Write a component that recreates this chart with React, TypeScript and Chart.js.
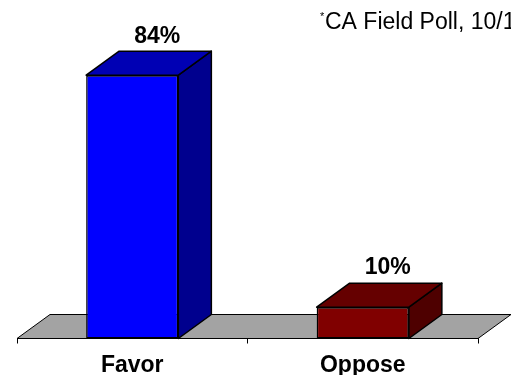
import React, { useEffect, useRef } from "react";
import { Chart, registerables } from "chart.js";

Chart.register(...registerables);

const categories = ["Favor", "Oppose"];
const values = [84, 10];
const valueLabels = ["84%", "10%"];
const footnote = "CA Field Poll, 10/13";

const frontColors = ["#0000FF", "#800000"];
const topColors = ["#0000B4", "#650000"];
const sideColors = ["#00008E", "#4E0000"];

const DX = 33;
const DY = -24;

const threeD = {
  id: "threeD",
  beforeDatasetsDraw(chart: any) {
    const { ctx, chartArea } = chart;
    const base = chart.scales.y.getPixelForValue(0);
    ctx.save();
    ctx.beginPath();
    ctx.moveTo(chartArea.left, base);
    ctx.lineTo(chartArea.right, base);
    ctx.lineTo(chartArea.right + DX, base + DY);
    ctx.lineTo(chartArea.left + DX, base + DY);
    ctx.closePath();
    ctx.fillStyle = "#A3A3A3";
    ctx.fill();
    ctx.strokeStyle = "#000";
    ctx.lineWidth = 1;
    ctx.stroke();
    ctx.restore();
  },
  afterDatasetsDraw(chart: any) {
    const { ctx } = chart;
    const meta = chart.getDatasetMeta(0);
    ctx.save();
    ctx.strokeStyle = "#000";
    ctx.lineWidth = 1.5;
    ctx.lineJoin = "round";
    meta.data.forEach((bar: any, i: number) => {
      const { x, y, width, base } = bar.getProps(["x", "y", "width", "base"], true);
      const l = x - width / 2;
      const r = x + width / 2;
      ctx.beginPath();
      ctx.moveTo(r, y);
      ctx.lineTo(r + DX, y + DY);
      ctx.lineTo(r + DX, base + DY);
      ctx.lineTo(r, base);
      ctx.closePath();
      ctx.fillStyle = sideColors[i];
      ctx.fill();
      ctx.stroke();
      ctx.beginPath();
      ctx.moveTo(l, y);
      ctx.lineTo(l + DX, y + DY);
      ctx.lineTo(r + DX, y + DY);
      ctx.lineTo(r, y);
      ctx.closePath();
      ctx.fillStyle = topColors[i];
      ctx.fill();
      ctx.stroke();
      ctx.fillStyle = "#000";
      ctx.font = 'bold 23px "Liberation Sans", Arial, sans-serif';
      ctx.textAlign = "center";
      ctx.textBaseline = "middle";
      ctx.fillText(valueLabels[i], x + 25, y - 39);
    });
    ctx.restore();
  },
  afterDraw(chart: any) {
    const { ctx } = chart;
    ctx.save();
    ctx.fillStyle = "#000";
    ctx.textAlign = "left";
    ctx.textBaseline = "alphabetic";
    ctx.font = '11px "Liberation Sans", Arial, sans-serif';
    ctx.fillText("*", 320, 20);
    ctx.font = '23px "Liberation Sans", Arial, sans-serif';
    ctx.fillText(footnote, 325, 29);
    ctx.restore();
  },
};

export default function App() {
  const ref = useRef<HTMLCanvasElement>(null);
  useEffect(() => {
    if (!ref.current) return;
    const chart = new Chart(ref.current, {
      type: "bar",
      data: {
        labels: categories,
        datasets: [
          {
            data: values,
            backgroundColor: frontColors,
            borderColor: "#000",
            borderWidth: 1.5,
            borderSkipped: false,
            barPercentage: 0.8,
            categoryPercentage: 0.5,
          },
        ],
      },
      options: {
        animation: false,
        responsive: false,
        devicePixelRatio: 1,
        layout: { padding: { left: 17, right: 33, top: 25, bottom: -12.5 } },
        plugins: { legend: { display: false }, tooltip: { enabled: false } },
        scales: {
          y: { display: false, min: 0, max: 100 },
          x: {
            grid: {
              offset: true,
              drawOnChartArea: false,
              drawTicks: true,
              tickLength: 5,
              color: "#000",
            },
            border: { display: true, color: "#000", width: 1 },
            ticks: {
              color: "#000",
              padding: 10.5,
              font: { family: '"Liberation Sans", Arial, sans-serif', size: 23, weight: "bold", lineHeight: 1 },
            },
          },
        },
      },
      plugins: [threeD],
    });
    return () => chart.destroy();
  }, []);
  return (
    <div style={{ position: "fixed", left: 0, top: 0, width: 511, height: 375, background: "#fff" }}>
      <canvas ref={ref} width={511} height={375} />
    </div>
  );
}
